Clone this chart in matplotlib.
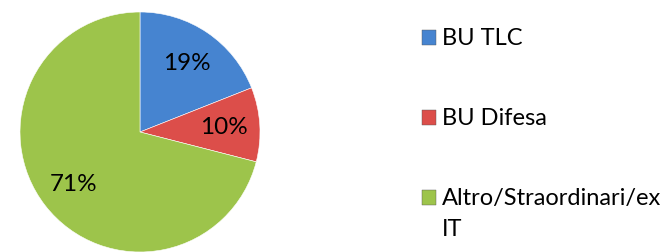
import matplotlib
matplotlib.use("Agg")
import matplotlib.pyplot as plt
from matplotlib.patches import Rectangle

labels = ["BU TLC", "BU Difesa", "Altro/Straordinari/ex\nIT"]
values = [19, 10, 71]
colors = ["#4684D0", "#DC4E4A", "#9DC44B"]

plt.rcParams['font.family'] = ['Lato', 'DejaVu Sans']

W, H = 672, 253
fig = plt.figure(figsize=(W / 100, H / 100), dpi=100)

# pie: centre (140, 133) px, radius 120 px
ax = fig.add_axes([20 / W, 0, 240 / W, 240 / H])
wedges, texts, autotexts = ax.pie(
    values, colors=colors, startangle=90, counterclock=False,
    autopct=lambda p: f"{p:.0f}%", pctdistance=0.7,
    wedgeprops=dict(edgecolor="white", linewidth=0.4),
    textprops=dict(fontsize=17.5, color="black"),
)
ax.set_xlim(-1, 1)
ax.set_ylim(-1, 1)
ax.set_aspect("equal")
ax.axis("off")

# legend drawn by hand (squares + text), baselines in px from top
baselines = [45, 125, 205]
for lab, col, y in zip(labels, colors, baselines):
    fig.patches.append(Rectangle((422 / W, 1 - (y + 1) / H), 14 / W, 15 / H,
                                 transform=fig.transFigure, facecolor=col,
                                 edgecolor="#555555", linewidth=0.3))
    for i, line in enumerate(lab.split("\n")):
        fig.text(442 / W, 1 - (y + 31 * i) / H, line, fontsize=17,
                 va="baseline", ha="left")

fig.savefig("out.png", dpi=100)
